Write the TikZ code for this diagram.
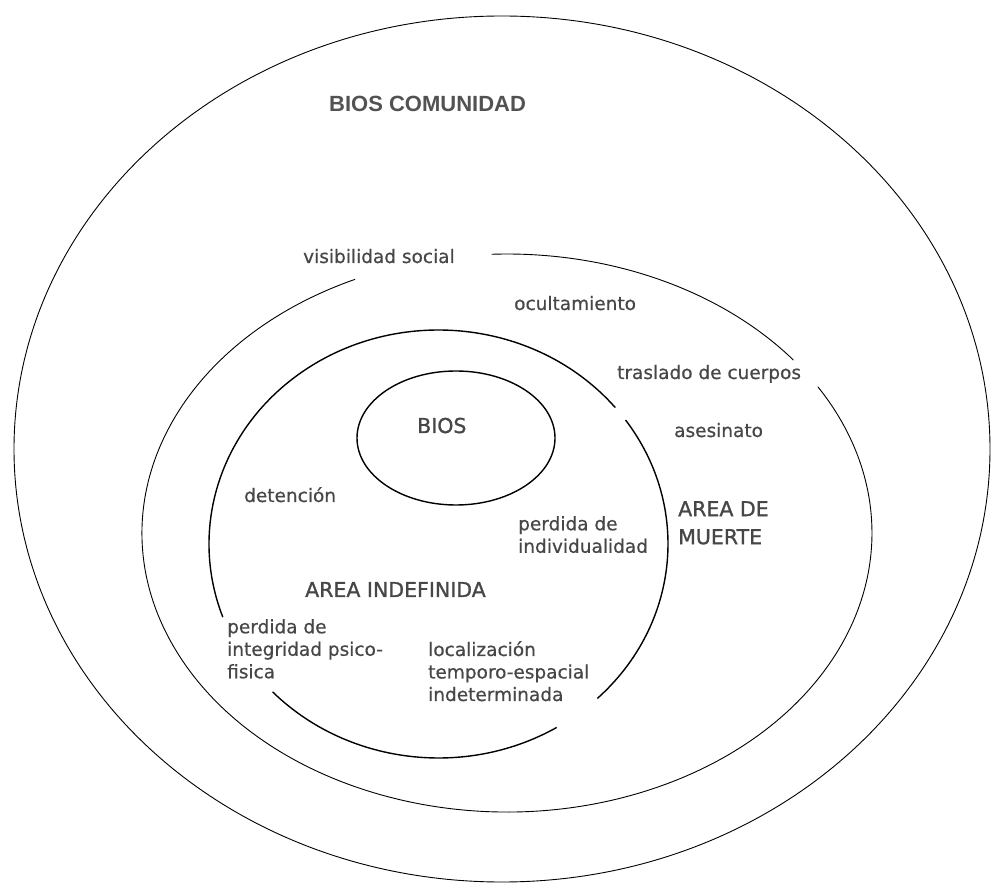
\documentclass[tikz,border=0pt]{standalone}
\usepackage{fontspec}
\setmainfont{DejaVu Sans}
\newfontfamily\lblfont[FakeBold=0.6]{DejaVu Sans}
\newfontfamily\capfont[FakeBold=1.2]{DejaVu Sans}
\newfontfamily\arialfont{Liberation Sans}
\begin{document}
\begin{tikzpicture}[x=1pt,y=1pt,
  lbl/.style={inner sep=0pt, text=black!72, font=\lblfont\fontsize{18.5}{22.5}\selectfont, align=left},
  caplbl/.style={inner sep=0pt, text=black!72, font=\capfont\fontsize{20.5}{28}\selectfont, align=left},
  titlelbl/.style={inner sep=0pt, text=black!68, font=\arialfont\bfseries\fontsize{22}{26}\selectfont},
  ringthin/.style={draw=black, line width=0.9pt},
  ringthick/.style={draw=black, line width=1.4pt}
]
\useasboundingbox (0,0) rectangle (993,884);

% outer ellipse (bios comunidad)
\draw[ringthin] (502,435) ellipse [x radius=488pt, y radius=433pt];

% middle ring (two arcs)
\draw[ringthin] (507,351) ++(114.6:365pt and 279pt)
  arc[start angle=114.6, end angle=391.6, x radius=365pt, y radius=279pt];
\draw[ringthin] (507,351) ++(38.3:365pt and 279pt)
  arc[start angle=38.3, end angle=92.4, x radius=365pt, y radius=279pt];

% third ring (three arcs)
\draw[ringthick] (438.5,340) ++(39.6:229.5pt and 214pt)
  arc[start angle=39.6, end angle=200, x radius=229.5pt, y radius=214pt];
\draw[ringthick] (438.5,340) ++(35.4:229.5pt and 214pt)
  arc[start angle=35.4, end angle=-46.2, x radius=229.5pt, y radius=214pt];
\draw[ringthick] (438.5,340) ++(223.7:229.5pt and 214pt)
  arc[start angle=223.7, end angle=301, x radius=229.5pt, y radius=214pt];

% BIOS ellipse
\draw[ringthick] (456,446) ellipse [x radius=99pt, y radius=67pt];

% labels
\node[titlelbl, anchor=base west] (bioscom) at (329,772) {BIOS COMUNIDAD};
\node[lbl, anchor=base west] (visib) at (303,621) {visibilidad social};
\node[lbl, anchor=base west] (ocult) at (514,574) {ocultamiento};
\node[lbl, anchor=base west] (trasl) at (617,505) {traslado de cuerpos};
\node[lbl, anchor=base west] (asesi) at (674,447) {asesinato};
\node[caplbl, anchor=base west] (bios) at (417,451) {BIOS};
\node[lbl, anchor=base west] (deten) at (244,382) {detención};
\node[lbl, anchor=north west] (indiv) at (518,368) {perdida de\\individualidad};
\node[caplbl, anchor=north west] (muerte) at (678,383) {AREA DE\\MUERTE};
\node[caplbl, anchor=base west] (indef) at (305,287) {AREA INDEFINIDA};
\node[lbl, anchor=north west] (integ) at (227,265) {perdida de\\integridad psico-\\fisica};
\node[lbl, anchor=north west] (local) at (428,243) {localización\\temporo-espacial\\indeterminada};
\end{tikzpicture}
\end{document}
